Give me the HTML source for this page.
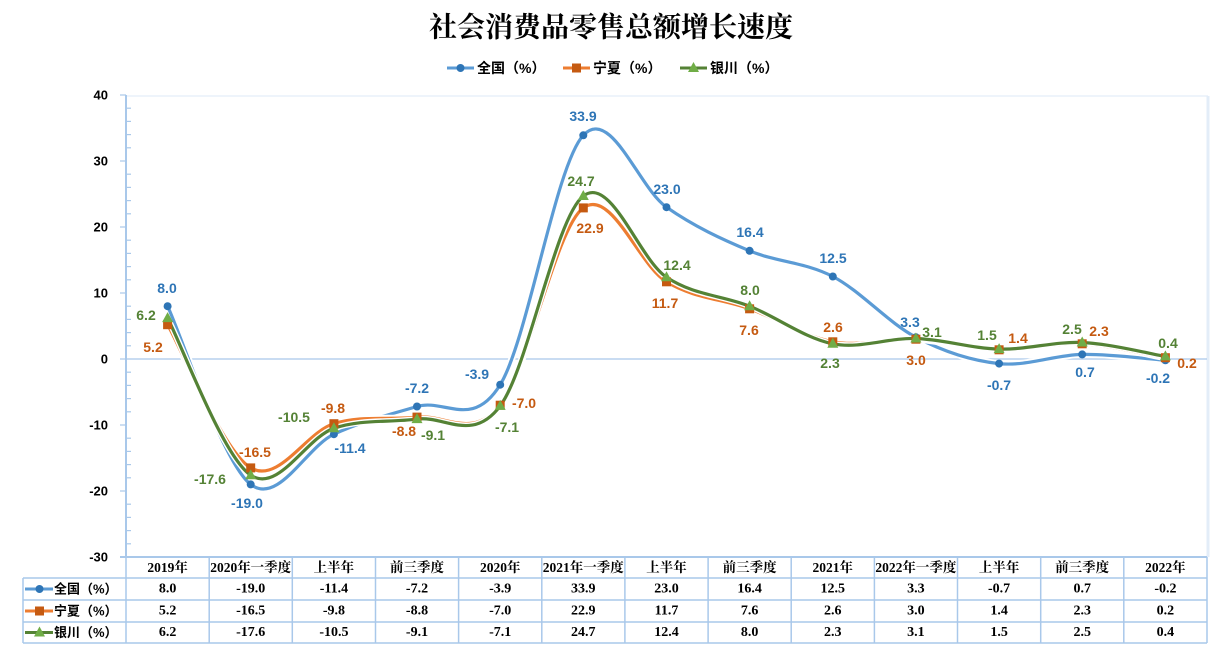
<!DOCTYPE html>
<html><head><meta charset="utf-8"><style>
html,body{margin:0;padding:0;background:#fff;}
svg{display:block;}
.t{font-family:"Liberation Serif","Noto Serif CJK SC",serif;font-weight:bold;font-size:28px;}
.lg{font-family:"Liberation Sans","Noto Sans CJK SC",sans-serif;font-weight:bold;font-size:14px;}
.ax{font-family:"Liberation Sans",sans-serif;font-weight:bold;font-size:13px;fill:#000;}
.dl{font-family:"Liberation Sans",sans-serif;font-weight:bold;font-size:14px;}
.th{font-family:"Liberation Serif","Noto Serif CJK SC",serif;font-weight:bold;font-size:13.5px;fill:#000;}
.td{font-family:"Liberation Serif",serif;font-weight:bold;font-size:14px;fill:#000;}
.b{fill:#2E75B6}.o{fill:#C55A11}.g{fill:#548235}
</style></head><body>
<svg width="1223" height="651" viewBox="0 0 1223 651" xmlns="http://www.w3.org/2000/svg">
<rect width="1223" height="651" fill="#fff"/>
<!-- title -->
<text x="611" y="28" class="t" text-anchor="middle" dominant-baseline="central">社会消费品零售总额增长速度</text>
<!-- legend -->
<g>
<line x1="447" y1="68" x2="474" y2="68" stroke="#5B9BD5" stroke-width="3"/>
<circle cx="460.5" cy="68" r="4" fill="#2E75B6"/>
<text x="477" y="68" class="lg" dominant-baseline="central">全国（%）</text>
<line x1="563" y1="68" x2="590" y2="68" stroke="#ED7D31" stroke-width="3"/>
<rect x="572" y="63.5" width="9" height="9" fill="#C55A11"/>
<text x="593" y="68" class="lg" dominant-baseline="central">宁夏（%）</text>
<line x1="680" y1="68" x2="707" y2="68" stroke="#548235" stroke-width="3"/>
<polygon points="693.5,62 699,72 688,72" fill="#70AD47"/>
<text x="710" y="68" class="lg" dominant-baseline="central">银川（%）</text>
</g>
<!-- plot frame -->
<line x1="126" y1="96" x2="1208" y2="96" stroke="#EEF4FB" stroke-width="2"/>
<line x1="1208" y1="96" x2="1208" y2="557" stroke="#E3EDF8" stroke-width="3"/>
<line x1="126" y1="359" x2="1207" y2="359" stroke="#A9C8EA" stroke-width="1.2"/>
<line x1="126" y1="95" x2="126" y2="558" stroke="#A9C8EA" stroke-width="2"/>
<line x1="120" y1="557" x2="1207" y2="557" stroke="#A9C8EA" stroke-width="2"/>
<g stroke="#A9C8EA" stroke-width="1.2">
<line x1="120" y1="95" x2="126" y2="95"/><line x1="120" y1="161" x2="126" y2="161"/><line x1="120" y1="227" x2="126" y2="227"/><line x1="120" y1="293" x2="126" y2="293"/><line x1="120" y1="359" x2="126" y2="359"/><line x1="120" y1="425" x2="126" y2="425"/><line x1="120" y1="491" x2="126" y2="491"/>
<line x1="126" y1="108.2" x2="131" y2="108.2"/><line x1="126" y1="121.4" x2="131" y2="121.4"/><line x1="126" y1="134.6" x2="131" y2="134.6"/><line x1="126" y1="147.8" x2="131" y2="147.8"/>
<line x1="126" y1="174.2" x2="131" y2="174.2"/><line x1="126" y1="187.4" x2="131" y2="187.4"/><line x1="126" y1="200.6" x2="131" y2="200.6"/><line x1="126" y1="213.8" x2="131" y2="213.8"/>
<line x1="126" y1="240.2" x2="131" y2="240.2"/><line x1="126" y1="253.4" x2="131" y2="253.4"/><line x1="126" y1="266.6" x2="131" y2="266.6"/><line x1="126" y1="279.8" x2="131" y2="279.8"/>
<line x1="126" y1="306.2" x2="131" y2="306.2"/><line x1="126" y1="319.4" x2="131" y2="319.4"/><line x1="126" y1="332.6" x2="131" y2="332.6"/><line x1="126" y1="345.8" x2="131" y2="345.8"/>
<line x1="126" y1="372.2" x2="131" y2="372.2"/><line x1="126" y1="385.4" x2="131" y2="385.4"/><line x1="126" y1="398.6" x2="131" y2="398.6"/><line x1="126" y1="411.8" x2="131" y2="411.8"/>
<line x1="126" y1="438.2" x2="131" y2="438.2"/><line x1="126" y1="451.4" x2="131" y2="451.4"/><line x1="126" y1="464.6" x2="131" y2="464.6"/><line x1="126" y1="477.8" x2="131" y2="477.8"/>
<line x1="126" y1="504.2" x2="131" y2="504.2"/><line x1="126" y1="517.4" x2="131" y2="517.4"/><line x1="126" y1="530.6" x2="131" y2="530.6"/><line x1="126" y1="543.8" x2="131" y2="543.8"/>
</g>
<g class="ax" text-anchor="end" dominant-baseline="central">
<text x="108" y="95">40</text><text x="108" y="161">30</text><text x="108" y="227">20</text><text x="108" y="293">10</text><text x="108" y="359">0</text><text x="108" y="425">-10</text><text x="108" y="491">-20</text><text x="108" y="557">-30</text>
</g>
<!-- series -->
<g fill="none" stroke-linecap="round" stroke-linejoin="round">
<path id="pb" d="M167.6,306.2 C181.5,335.9 223.0,463.1 250.7,484.4 C278.4,505.7 306.2,447.2 333.9,434.2 C361.6,421.2 389.3,414.8 417.0,406.5 C444.7,398.3 472.5,429.9 500.2,384.7 C527.9,339.5 555.6,164.9 583.3,135.3 C611.0,105.7 638.8,188.0 666.5,207.2 C694.2,226.5 721.9,239.3 749.6,250.8 C777.3,262.4 805.1,262.1 832.8,276.5 C860.5,290.9 888.2,322.7 915.9,337.2 C943.6,351.7 971.4,360.7 999.1,363.6 C1026.8,366.5 1054.5,355.0 1082.2,354.4 C1109.9,353.9 1151.5,359.3 1165.4,360.3" stroke="#fff" stroke-width="7"/>
<path d="M167.6,306.2 C181.5,335.9 223.0,463.1 250.7,484.4 C278.4,505.7 306.2,447.2 333.9,434.2 C361.6,421.2 389.3,414.8 417.0,406.5 C444.7,398.3 472.5,429.9 500.2,384.7 C527.9,339.5 555.6,164.9 583.3,135.3 C611.0,105.7 638.8,188.0 666.5,207.2 C694.2,226.5 721.9,239.3 749.6,250.8 C777.3,262.4 805.1,262.1 832.8,276.5 C860.5,290.9 888.2,322.7 915.9,337.2 C943.6,351.7 971.4,360.7 999.1,363.6 C1026.8,366.5 1054.5,355.0 1082.2,354.4 C1109.9,353.9 1151.5,359.3 1165.4,360.3" stroke="#5B9BD5" stroke-width="3.2"/>
<path d="M167.6,324.7 C181.5,348.6 223.0,451.4 250.7,467.9 C278.4,484.4 306.2,432.2 333.9,423.7 C361.6,415.2 389.3,420.2 417.0,417.1 C444.7,414.0 472.5,440.1 500.2,405.2 C527.9,370.3 555.6,228.5 583.3,207.9 C611.0,187.3 638.8,265.0 666.5,281.8 C694.2,298.6 721.9,298.8 749.6,308.8 C777.3,318.8 805.1,336.7 832.8,341.8 C860.5,346.9 888.2,337.9 915.9,339.2 C943.6,340.5 971.4,349.0 999.1,349.8 C1026.8,350.6 1054.5,342.5 1082.2,343.8 C1109.9,345.1 1151.5,355.4 1165.4,357.7" stroke="#fff" stroke-width="7"/>
<path d="M167.6,324.7 C181.5,348.6 223.0,451.4 250.7,467.9 C278.4,484.4 306.2,432.2 333.9,423.7 C361.6,415.2 389.3,420.2 417.0,417.1 C444.7,414.0 472.5,440.1 500.2,405.2 C527.9,370.3 555.6,228.5 583.3,207.9 C611.0,187.3 638.8,265.0 666.5,281.8 C694.2,298.6 721.9,298.8 749.6,308.8 C777.3,318.8 805.1,336.7 832.8,341.8 C860.5,346.9 888.2,337.9 915.9,339.2 C943.6,340.5 971.4,349.0 999.1,349.8 C1026.8,350.6 1054.5,342.5 1082.2,343.8 C1109.9,345.1 1151.5,355.4 1165.4,357.7" stroke="#ED7D31" stroke-width="3.2"/>
<path d="M167.6,318.1 C181.5,344.3 223.0,456.8 250.7,475.2 C278.4,493.6 306.2,437.7 333.9,428.3 C361.6,418.9 389.3,422.8 417.0,419.1 C444.7,415.4 472.5,443.1 500.2,405.9 C527.9,368.7 555.6,217.5 583.3,196.0 C611.0,174.6 638.8,258.8 666.5,277.2 C694.2,295.6 721.9,295.1 749.6,306.2 C777.3,317.3 805.1,338.4 832.8,343.8 C860.5,349.2 888.2,337.6 915.9,338.5 C943.6,339.4 971.4,348.4 999.1,349.1 C1026.8,349.8 1054.5,341.3 1082.2,342.5 C1109.9,343.7 1151.5,354.1 1165.4,356.4" stroke="#fff" stroke-width="6"/>
<path d="M167.6,318.1 C181.5,344.3 223.0,456.8 250.7,475.2 C278.4,493.6 306.2,437.7 333.9,428.3 C361.6,418.9 389.3,422.8 417.0,419.1 C444.7,415.4 472.5,443.1 500.2,405.9 C527.9,368.7 555.6,217.5 583.3,196.0 C611.0,174.6 638.8,258.8 666.5,277.2 C694.2,295.6 721.9,295.1 749.6,306.2 C777.3,317.3 805.1,338.4 832.8,343.8 C860.5,349.2 888.2,337.6 915.9,338.5 C943.6,339.4 971.4,348.4 999.1,349.1 C1026.8,349.8 1054.5,341.3 1082.2,342.5 C1109.9,343.7 1151.5,354.1 1165.4,356.4" stroke="#548235" stroke-width="3.2"/>
</g>
<!-- markers -->
<g fill="#2E75B6">
<circle cx="167.6" cy="306.2" r="4"/><circle cx="250.7" cy="484.4" r="4"/><circle cx="333.9" cy="434.2" r="4"/><circle cx="417.0" cy="406.5" r="4"/><circle cx="500.2" cy="384.7" r="4"/><circle cx="583.3" cy="135.3" r="4"/><circle cx="666.5" cy="207.2" r="4"/><circle cx="749.6" cy="250.8" r="4"/><circle cx="832.8" cy="276.5" r="4"/><circle cx="915.9" cy="337.2" r="4"/><circle cx="999.1" cy="363.6" r="4"/><circle cx="1082.2" cy="354.4" r="4"/><circle cx="1165.4" cy="360.3" r="4"/>
</g>
<g fill="#C55A11">
<rect x="163.1" y="320.2" width="9" height="9"/><rect x="246.2" y="463.4" width="9" height="9"/><rect x="329.4" y="419.2" width="9" height="9"/><rect x="412.5" y="412.6" width="9" height="9"/><rect x="495.7" y="400.7" width="9" height="9"/><rect x="578.8" y="203.4" width="9" height="9"/><rect x="662.0" y="277.3" width="9" height="9"/><rect x="745.1" y="304.3" width="9" height="9"/><rect x="828.3" y="337.3" width="9" height="9"/><rect x="911.4" y="334.7" width="9" height="9"/><rect x="994.6" y="345.3" width="9" height="9"/><rect x="1077.7" y="339.3" width="9" height="9"/><rect x="1160.9" y="353.2" width="9" height="9"/>
</g>
<g fill="#70AD47">
<polygon points="167.6,312.1 173.1,322.1 162.1,322.1"/><polygon points="250.7,469.2 256.2,479.2 245.2,479.2"/><polygon points="333.9,422.3 339.4,432.3 328.4,432.3"/><polygon points="417.0,413.1 422.5,423.1 411.5,423.1"/><polygon points="500.2,399.9 505.7,409.9 494.7,409.9"/><polygon points="583.3,190.0 588.8,200.0 577.8,200.0"/><polygon points="666.5,271.2 672.0,281.2 661.0,281.2"/><polygon points="749.6,300.2 755.1,310.2 744.1,310.2"/><polygon points="832.8,337.8 838.3,347.8 827.3,347.8"/><polygon points="915.9,332.5 921.4,342.5 910.4,342.5"/><polygon points="999.1,343.1 1004.6,353.1 993.6,353.1"/><polygon points="1082.2,336.5 1087.7,346.5 1076.7,346.5"/><polygon points="1165.4,350.4 1170.9,360.4 1159.9,360.4"/>
</g>
<!-- data labels -->
<g class="dl" text-anchor="middle" dominant-baseline="central">
<g class="b">
<text x="167" y="288">8.0</text><text x="247" y="503">-19.0</text><text x="350" y="448">-11.4</text><text x="417" y="388">-7.2</text><text x="477" y="374">-3.9</text><text x="583" y="116">33.9</text><text x="667" y="189">23.0</text><text x="750" y="232">16.4</text><text x="833" y="258">12.5</text><text x="910" y="322">3.3</text><text x="999" y="385">-0.7</text><text x="1085" y="372">0.7</text><text x="1158" y="378">-0.2</text>
</g>
<g class="o">
<text x="153" y="347">5.2</text><text x="255" y="452">-16.5</text><text x="333" y="408">-9.8</text><text x="404" y="431">-8.8</text><text x="524" y="403">-7.0</text><text x="590" y="228">22.9</text><text x="665" y="303">11.7</text><text x="749" y="330">7.6</text><text x="833" y="327">2.6</text><text x="916" y="360">3.0</text><text x="1018" y="338">1.4</text><text x="1099" y="331">2.3</text><text x="1187" y="363">0.2</text>
</g>
<g class="g">
<text x="146" y="315">6.2</text><text x="210" y="479">-17.6</text><text x="294" y="417">-10.5</text><text x="433" y="435">-9.1</text><text x="507" y="427">-7.1</text><text x="581" y="181">24.7</text><text x="677" y="265">12.4</text><text x="750" y="290">8.0</text><text x="830" y="363">2.3</text><text x="932" y="332">3.1</text><text x="987" y="335">1.5</text><text x="1072" y="329">2.5</text><text x="1168" y="343">0.4</text>
</g>
</g>
<!-- table -->
<g stroke="#A9C8EA" stroke-width="1.5" fill="none">
<line x1="23" y1="578" x2="1207" y2="578"/>
<line x1="23" y1="600" x2="1207" y2="600"/>
<line x1="23" y1="622" x2="1207" y2="622"/>
<line x1="23" y1="643" x2="1207" y2="643"/>
<line x1="23" y1="578" x2="23" y2="643"/>
<line x1="126" y1="557" x2="126" y2="643"/>
<line x1="209.2" y1="557" x2="209.2" y2="643"/><line x1="292.3" y1="557" x2="292.3" y2="643"/><line x1="375.5" y1="557" x2="375.5" y2="643"/><line x1="458.6" y1="557" x2="458.6" y2="643"/><line x1="541.8" y1="557" x2="541.8" y2="643"/><line x1="624.9" y1="557" x2="624.9" y2="643"/><line x1="708.1" y1="557" x2="708.1" y2="643"/><line x1="791.2" y1="557" x2="791.2" y2="643"/><line x1="874.4" y1="557" x2="874.4" y2="643"/><line x1="957.5" y1="557" x2="957.5" y2="643"/><line x1="1040.7" y1="557" x2="1040.7" y2="643"/><line x1="1123.8" y1="557" x2="1123.8" y2="643"/><line x1="1207" y1="557" x2="1207" y2="643"/>
</g>
<g class="th" text-anchor="middle" dominant-baseline="central">
<text x="167.6" y="567.5">2019年</text><text x="250.7" y="567.5">2020年一季度</text><text x="333.9" y="567.5">上半年</text><text x="417.0" y="567.5">前三季度</text><text x="500.2" y="567.5">2020年</text><text x="583.3" y="567.5">2021年一季度</text><text x="666.5" y="567.5">上半年</text><text x="749.6" y="567.5">前三季度</text><text x="832.8" y="567.5">2021年</text><text x="915.9" y="567.5">2022年一季度</text><text x="999.1" y="567.5">上半年</text><text x="1082.2" y="567.5">前三季度</text><text x="1165.4" y="567.5">2022年</text>
</g>
<g class="td" text-anchor="middle" dominant-baseline="central">
<text x="167.6" y="589">8.0</text><text x="250.7" y="589">-19.0</text><text x="333.9" y="589">-11.4</text><text x="417.0" y="589">-7.2</text><text x="500.2" y="589">-3.9</text><text x="583.3" y="589">33.9</text><text x="666.5" y="589">23.0</text><text x="749.6" y="589">16.4</text><text x="832.8" y="589">12.5</text><text x="915.9" y="589">3.3</text><text x="999.1" y="589">-0.7</text><text x="1082.2" y="589">0.7</text><text x="1165.4" y="589">-0.2</text>
<text x="167.6" y="611">5.2</text><text x="250.7" y="611">-16.5</text><text x="333.9" y="611">-9.8</text><text x="417.0" y="611">-8.8</text><text x="500.2" y="611">-7.0</text><text x="583.3" y="611">22.9</text><text x="666.5" y="611">11.7</text><text x="749.6" y="611">7.6</text><text x="832.8" y="611">2.6</text><text x="915.9" y="611">3.0</text><text x="999.1" y="611">1.4</text><text x="1082.2" y="611">2.3</text><text x="1165.4" y="611">0.2</text>
<text x="167.6" y="632.5">6.2</text><text x="250.7" y="632.5">-17.6</text><text x="333.9" y="632.5">-10.5</text><text x="417.0" y="632.5">-9.1</text><text x="500.2" y="632.5">-7.1</text><text x="583.3" y="632.5">24.7</text><text x="666.5" y="632.5">12.4</text><text x="749.6" y="632.5">8.0</text><text x="832.8" y="632.5">2.3</text><text x="915.9" y="632.5">3.1</text><text x="999.1" y="632.5">1.5</text><text x="1082.2" y="632.5">2.5</text><text x="1165.4" y="632.5">0.4</text>
</g>
<!-- table legend keys -->
<g>
<line x1="25" y1="589" x2="53" y2="589" stroke="#5B9BD5" stroke-width="3"/>
<circle cx="39.5" cy="589" r="4" fill="#2E75B6"/>
<text x="54" y="589" class="lg" style="font-size:13px" dominant-baseline="central">全国（%）</text>
<line x1="25" y1="611" x2="53" y2="611" stroke="#ED7D31" stroke-width="3"/>
<rect x="35" y="606.5" width="9" height="9" fill="#C55A11"/>
<text x="54" y="611" class="lg" style="font-size:13px" dominant-baseline="central">宁夏（%）</text>
<line x1="25" y1="632.5" x2="53" y2="632.5" stroke="#548235" stroke-width="3"/>
<polygon points="39.5,626.5 45,636.5 34,636.5" fill="#70AD47"/>
<text x="54" y="632.5" class="lg" style="font-size:13px" dominant-baseline="central">银川（%）</text>
</g>
</svg>
</body></html>
